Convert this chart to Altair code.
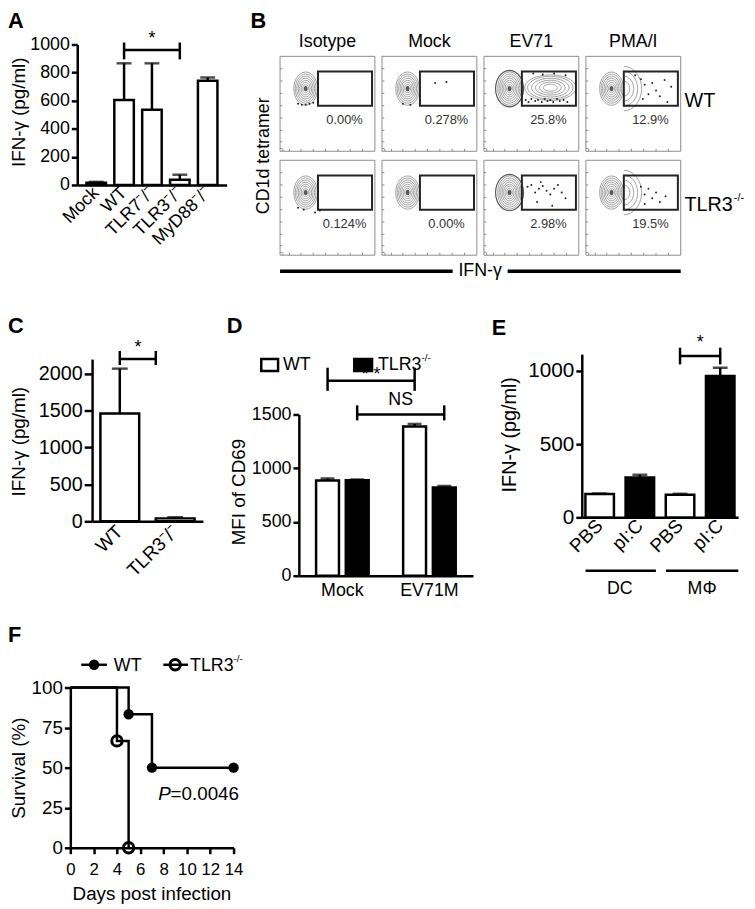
import math
import altair as alt
import pandas as pd

# ---------------- data ----------------
# Panel A
a_cats = ["Mock", "WT", "TLR7⁻/⁻", "TLR3⁻/⁻", "MyD88⁻/⁻"]
a_mean = [15, 605, 535, 37, 742]
a_upper = [22, 866, 866, 73, 765]

# Panel B (flow cytometry)
b_cols = ["Isotype", "Mock", "EV71", "PMA/I"]
b_pct = [["0.00%", "0.278%", "25.8%", "12.9%"],
         ["0.124%", "0.00%", "2.98%", "19.5%"]]
# scattered events (local cell units 0-100): row, col, x, y
b_dot_row = [0]*5 + [0]*5 + [0]*18 + [0]*11 + [1]*4 + [1]*14 + [1]*8
b_dot_col = [0]*5 + [1]*5 + [2]*18 + [3]*11 + [0]*4 + [2]*14 + [3]*8
b_dot_x = [19, 23, 27, 31, 35,
           22, 30, 40, 56, 68,
           44, 47, 50, 54, 57, 61, 64, 67, 70, 73, 77, 80, 84, 88, 52, 62, 74, 86,
           52, 58, 62, 70, 74, 78, 83, 86, 60, 90, 66,
           19, 25, 37, 42,
           46, 50, 54, 58, 62, 66, 70, 74, 78, 82, 56, 72, 86, 60,
           58, 62, 66, 70, 74, 78, 62, 84]
b_dot_y = [50, 49, 49, 50, 51,
           50, 49, 50, 72, 73,
           54, 52, 55, 53, 54, 52, 55, 53, 54, 52, 55, 53, 54, 52, 82, 81, 82, 80,
           80, 76, 70, 72, 64, 58, 75, 52, 55, 68, 60,
           50, 48, 45, 47,
           72, 74, 66, 70, 73, 68, 64, 70, 74, 66, 56, 52, 60, 77,
           72, 64, 70, 60, 66, 56, 54, 62]
# flow-plot axis ticks (local cell units)
b_ticks = [3, 10, 22, 35, 48, 61, 74, 87]

# Panel C
c_cats = ["WT", "TLR3⁻/⁻"]
c_mean = [1463, 40]
c_upper = [2070, 55]

# Panel D
d_groups = ["Mock", "Mock", "EV71M", "EV71M"]
d_geno = ["WT", "TLR3", "WT", "TLR3"]
d_mean = [885, 888, 1388, 820]
d_upper = [905, 895, 1412, 835]

# Panel E
e_cells = ["DC", "DC", "MΦ", "MΦ"]
e_treat = ["PBS", "pI:C", "PBS", "pI:C"]
e_mean = [160, 273, 155, 966]
e_upper = [163, 291, 161, 1022]

# Panel F (Kaplan-Meier)
f_wt_day = [0, 5, 7, 14]
f_wt_surv = [100, 83.3, 50, 50]
f_ko_day = [0, 4, 5]
f_ko_surv = [100, 66.7, 0]
f_wt_mark_day = [5, 7, 14]
f_wt_mark_surv = [83.3, 50, 50]
f_ko_mark_day = [4, 5]
f_ko_mark_surv = [66.7, 0]

# ---------------- layout helpers ----------------
M = 8
W, H = 747, 901
FONT = "Liberation Sans, Arial, Helvetica, sans-serif"
LW = 2.5


def P(v):
    return v - M


def lin(domain, r0, r1):
    return alt.Scale(domain=domain, range=[P(r0), P(r1)], nice=False)


def band_pair(cats, r0, r1, pi, po):
    """band scale for bars + linear scale in 'category index' units on the same pixels"""
    bsc = alt.Scale(domain=cats, range=[P(r0), P(r1)], paddingInner=pi, paddingOuter=po)
    d0 = -(po + (1 - pi) / 2)
    lsc = lin([d0, d0 + len(cats) - pi + 2 * po], r0, r1)
    return bsc, lsc


def yaxis(x_ref, values, title, tcx, tcy, lab=18, tsize=19, tick=6):
    return alt.Axis(orient="left", offset=-P(x_ref), values=values, title=title, format="d",
                    domainColor="black", domainWidth=LW, tickColor="black", tickWidth=LW,
                    tickSize=tick, labelFont=FONT, labelFontSize=lab, labelColor="black",
                    labelPadding=2, labelOverlap=False, labelFlush=False,
                    titleFont=FONT, titleFontSize=tsize, titleFontWeight="normal",
                    titleColor="black", titleX=tcx - x_ref, titleY=P(tcy), titleAngle=270,
                    titleAlign="center", titleBaseline="middle", grid=False)


def xaxis(y_ref, angle=-45, ticks=False, values=None, title=None, tcx=None, tcy=None,
          label_expr=None, pad=4, lab=18, tsize=18):
    kw = dict(orient="bottom", offset=P(y_ref) - H, labelAngle=angle, title=title,
              domainColor="black", domainWidth=LW, ticks=ticks, tickColor="black",
              tickWidth=LW, tickSize=6, labelFont=FONT, labelFontSize=lab, labelColor="black",
              labelPadding=pad, labelOverlap=False, labelFlush=False, titleFont=FONT,
              titleFontSize=tsize, titleFontWeight="normal", titleColor="black", grid=False)
    if title is not None:
        kw.update(titleX=P(tcx), titleY=tcy - y_ref, titleAlign="center", titleBaseline="middle")
    if angle != 0:
        kw.update(labelAlign="right", labelBaseline="middle")
    if values is not None:
        kw["values"] = values
    if label_expr is not None:
        kw["labelExpr"] = label_expr
    return alt.Axis(**kw)


def txt(text, x, y, size=18, weight="normal", align="center", style="normal", baseline="middle"):
    return alt.Chart(pd.DataFrame({"t": [text]})).mark_text(
        font=FONT, fontSize=size, fontWeight=weight, align=align, baseline=baseline,
        fontStyle=style, color="black").encode(x=alt.value(P(x)), y=alt.value(P(y)), text="t:N")


def bracket(xs, xe, yv, cap_lo, cap_hi, xsc, ysc):
    line = pd.DataFrame({"x": [xs], "x2": [xe], "y": [yv]})
    caps = pd.DataFrame({"x": [xs, xe], "y": [cap_lo, cap_lo], "y2": [cap_hi, cap_hi]})
    l1 = alt.Chart(line).mark_rule(color="black", strokeWidth=LW).encode(
        x=alt.X("x:Q", scale=xsc, axis=None), x2="x2:Q",
        y=alt.Y("y:Q", scale=ysc, axis=None))
    l2 = alt.Chart(caps).mark_rule(color="black", strokeWidth=LW).encode(
        x=alt.X("x:Q", scale=xsc, axis=None),
        y=alt.Y("y:Q", scale=ysc, axis=None), y2="y2:Q")
    return [l1, l2]


def qtext(text, xv, yv, xsc, ysc, size=18, align="center", style="normal", baseline="middle"):
    return alt.Chart(pd.DataFrame({"t": [text], "x": [xv], "y": [yv]})).mark_text(
        font=FONT, fontSize=size, align=align, baseline=baseline, fontStyle=style, color="black"
    ).encode(x=alt.X("x:Q", scale=xsc, axis=None), y=alt.Y("y:Q", scale=ysc, axis=None), text="t:N")


def bar_panel(df, xfield, xsc, ysc, xax, yax, sort, cap=14, fill=None, xoff=None):
    enc_x = lambda ax: alt.X(xfield, scale=xsc, sort=sort, axis=ax)
    extra = {}
    if xoff is not None:
        extra["xOffset"] = xoff
    out = [
        alt.Chart(df).mark_rule(color="black", strokeWidth=LW).encode(
            x=enc_x(None), y=alt.Y("mean:Q", scale=ysc, axis=None), y2="upper:Q", **extra),
        alt.Chart(df).mark_tick(color="black", thickness=LW, size=cap).encode(
            x=enc_x(None), y=alt.Y("upper:Q", scale=ysc, axis=None), **extra),
    ]
    bar_kw = dict(stroke="black", strokeWidth=LW)
    if fill is None:
        bar_kw["fill"] = "white"
    else:
        extra["fill"] = fill
    out.append(alt.Chart(df).mark_bar(**bar_kw).encode(
        x=enc_x(xax), y=alt.Y("mean:Q", scale=ysc, axis=yax), y2=alt.datum(0), **extra))
    return out


layers = []

# ---------------- Panel A ----------------
dfA = pd.DataFrame({"cat": a_cats, "mean": a_mean, "upper": a_upper})
xA, xA_l = band_pair(a_cats, 78, 229, 0.3, 0.33)
yA = lin([0, 1000], 182, 40)
layers += bar_panel(dfA, "cat:N", xA, yA, xaxis(182, pad=5),
                    yaxis(78, [0, 200, 400, 600, 800, 1000], "IFN-γ (pg/ml)", 19, 108, lab=18, tsize=19),
                    a_cats, cap=15)
layers += bracket(1, 3, 960, 894, 1014, xA_l, yA)
layers.append(qtext("*", 2, 1040, xA_l, yA, size=18))

# ---------------- Panel B ----------------
CELL, GX, GY = 100.0, 7.5, 9.5
xB = lin([0, 4 * CELL + 3 * GX], 283, 688)
yB = lin([0, 2 * CELL + GY], 253, 52)


def cx0(c):
    return c * (CELL + GX)


def cy0(r):
    return (1 - r) * (CELL + GY)


cells = []
for r in range(2):
    for c in range(4):
        cells.append({"r": r, "c": c, "x0": cx0(c), "x1": cx0(c) + CELL,
                      "y0": cy0(r), "y1": cy0(r) + CELL,
                      "gx0": cx0(c) + 40, "gx1": cx0(c) + 97,
                      "gy0": cy0(r) + 48, "gy1": cy0(r) + 84,
                      "px": cx0(c) + 68, "py": cy0(r) + 33, "pct": b_pct[r][c],
                      "bx": cx0(c) + 27, "by": cy0(r) + 66})
dfCells = pd.DataFrame(cells)
layers.append(alt.Chart(dfCells).mark_rect(fill=None, stroke="#8c8c8c", strokeWidth=1).encode(
    x=alt.X("x0:Q", scale=xB, axis=None), x2="x1:Q",
    y=alt.Y("y0:Q", scale=yB, axis=None), y2="y1:Q"))
# small axis ticks along the left and bottom edge of each flow plot
tk = []
for cell in cells:
    for t in b_ticks:
        tk.append({"x": cell["x0"] + t, "x2": cell["x0"] + t, "y": cell["y0"], "y2": cell["y0"] + 2.5})
        tk.append({"x": cell["x0"], "x2": cell["x0"] + 2.5, "y": cell["y0"] + t, "y2": cell["y0"] + t})
layers.append(alt.Chart(pd.DataFrame(tk)).mark_rule(color="#8c8c8c", strokeWidth=1).encode(
    x=alt.X("x:Q", scale=xB, axis=None), x2="x2:Q",
    y=alt.Y("y:Q", scale=yB, axis=None), y2="y2:Q"))


def ellipse_path(ry, n=28):
    pts = ["%.3f,%.3f" % (math.cos(2 * math.pi * i / n), ry * math.sin(2 * math.pi * i / n)) for i in range(n)]
    return "M" + " L".join(pts) + " Z"


def half_path(ry, n=16):
    pts = ["%.3f,%.3f" % (math.cos(-math.pi / 2 + math.pi * i / n), ry * math.sin(-math.pi / 2 + math.pi * i / n)) for i in range(n + 1)]
    return "M" + " L".join(pts)


ring_w = [6, 9, 12, 15, 18, 21, 24]
rings = []
for cell in cells:
    for w in ring_w:
        rings.append({"x": cell["bx"], "y": cell["by"], "s": w * w})
dfRings = pd.DataFrame(rings)
layers.append(alt.Chart(dfRings).mark_point(shape=ellipse_path(1.4), filled=False, stroke="#8a8a8a",
                                            strokeWidth=0.8, opacity=1).encode(
    x=alt.X("x:Q", scale=xB, axis=None), y=alt.Y("y:Q", scale=yB, axis=None),
    size=alt.Size("s:Q", scale=None)))
layers.append(alt.Chart(dfCells).mark_point(shape=ellipse_path(1.4), filled=True, fill="#5a5a5a",
                                            opacity=1, size=16).encode(
    x=alt.X("bx:Q", scale=xB, axis=None), y=alt.Y("by:Q", scale=yB, axis=None)))
ev = dfCells[dfCells.c == 2]
layers.append(alt.Chart(ev).mark_point(shape=ellipse_path(1.3), filled=False, stroke="#555555",
                                       strokeWidth=1.2, size=800, opacity=1).encode(
    x=alt.X("bx:Q", scale=xB, axis=None), y=alt.Y("by:Q", scale=yB, axis=None)))
ev_w = [14, 22, 30, 38, 46, 52]
dfEV = pd.DataFrame({"x": [cx0(2) + 70] * len(ev_w), "y": [cy0(0) + 67] * len(ev_w), "s": [w * w for w in ev_w]})
layers.append(alt.Chart(dfEV).mark_point(shape=ellipse_path(0.5), filled=False, stroke="#8a8a8a",
                                         strokeWidth=0.8, opacity=1).encode(
    x=alt.X("x:Q", scale=xB, axis=None), y=alt.Y("y:Q", scale=yB, axis=None),
    size=alt.Size("s:Q", scale=None)))
pma_r = [6, 10, 14, 18]
pm = []
for r in range(2):
    for rr in pma_r:
        pm.append({"x": cx0(3) + 40, "y": cy0(r) + 66, "s": (2 * rr) ** 2})
layers.append(alt.Chart(pd.DataFrame(pm)).mark_point(shape=half_path(1.25), filled=False, stroke="#8a8a8a",
                                                     strokeWidth=0.8, opacity=1).encode(
    x=alt.X("x:Q", scale=xB, axis=None), y=alt.Y("y:Q", scale=yB, axis=None),
    size=alt.Size("s:Q", scale=None)))
dfDots = pd.DataFrame({"r": b_dot_row, "c": b_dot_col, "lx": b_dot_x, "ly": b_dot_y})
dfDots["x"] = dfDots.c * (CELL + GX) + dfDots.lx
dfDots["y"] = (1 - dfDots.r) * (CELL + GY) + dfDots.ly
layers.append(alt.Chart(dfDots).mark_circle(color="#222222", size=4, opacity=1).encode(
    x=alt.X("x:Q", scale=xB, axis=None), y=alt.Y("y:Q", scale=yB, axis=None)))
layers.append(alt.Chart(dfCells).mark_rect(fill=None, stroke="#222222", strokeWidth=2).encode(
    x=alt.X("gx0:Q", scale=xB, axis=None), x2="gx1:Q",
    y=alt.Y("gy0:Q", scale=yB, axis=None), y2="gy1:Q"))
layers.append(alt.Chart(dfCells).mark_text(font=FONT, fontSize=13, color="#333333").encode(
    x=alt.X("px:Q", scale=xB, axis=None), y=alt.Y("py:Q", scale=yB, axis=None), text="pct:N"))
dfColT = pd.DataFrame({"t": b_cols, "x": [cx0(c) + 50 for c in range(4)], "y": [2 * CELL + GY + 15] * 4})
layers.append(alt.Chart(dfColT).mark_text(font=FONT, fontSize=18, color="black").encode(
    x=alt.X("x:Q", scale=xB, axis=None), y=alt.Y("y:Q", scale=yB, axis=None), text="t:N"))
xr = 4 * CELL + 3 * GX + 4
layers.append(qtext("WT", xr, cy0(0) + 53, xB, yB, size=20, align="left"))
layers.append(qtext("TLR3", xr, cy0(1) + 53, xB, yB, size=20, align="left"))
layers.append(qtext("-/-", xr + 52, cy0(1) + 60, xB, yB, size=11, align="left"))
layers.append(alt.Chart(pd.DataFrame({"t": ["CD1d tetramer"], "x": [-17], "y": [CELL + GY / 2]})).mark_text(
    font=FONT, fontSize=18, angle=270, color="black").encode(
    x=alt.X("x:Q", scale=xB, axis=None), y=alt.Y("y:Q", scale=yB, axis=None), text="t:N"))
dfIL = pd.DataFrame({"x": [0, 240], "x2": [182, 4 * CELL + 3 * GX], "y": [-17, -17]})
layers.append(alt.Chart(dfIL).mark_rule(color="black", strokeWidth=3.5).encode(
    x=alt.X("x:Q", scale=xB, axis=None), x2="x2:Q", y=alt.Y("y:Q", scale=yB, axis=None)))
layers.append(qtext("IFN-γ", 211, -17, xB, yB, size=18))

# ---------------- Panel C ----------------
dfC = pd.DataFrame({"cat": c_cats, "mean": c_mean, "upper": c_upper})
xC, xC_l = band_pair(c_cats, 93, 205, 0.3, 0.15)
yC = lin([0, 2200], 522, 358)
layers += bar_panel(dfC, "cat:N", xC, yC, xaxis(522, pad=7, lab=19),
                    yaxis(93, [0, 500, 1000, 1500, 2000], "IFN-γ (pg/ml)", 19, 441, lab=20, tsize=19, tick=8),
                    c_cats, cap=16)
layers += bracket(0, 0.65, 2200, 2120, 2310, xC_l, yC)
layers.append(qtext("*", 0.33, 2350, xC_l, yC, size=18))

# ---------------- Panel D ----------------
dfD = pd.DataFrame({"grp": d_groups, "geno": d_geno, "mean": d_mean, "upper": d_upper})
xD = alt.Scale(domain=["Mock", "EV71M"], range=[P(302), P(478)], paddingInner=0, paddingOuter=0)
yD = lin([0, 1500], 577, 414)
xoD = alt.XOffset("geno:N", scale=alt.Scale(domain=["WT", "TLR3"], paddingInner=0.23, paddingOuter=0.58),
                  sort=["WT", "TLR3"])
fD = alt.Fill("geno:N", scale=alt.Scale(domain=["WT", "TLR3"], range=["white", "black"]), legend=None)
layers += bar_panel(dfD, "grp:N", xD, yD, xaxis(577, angle=0, pad=6, lab=18),
                    yaxis(302, [0, 500, 1000, 1500], "MFI of CD69", 241, 492, lab=18, tsize=19),
                    ["Mock", "EV71M"], cap=14, fill=fD, xoff=xoD)
xD_l = lin([0, 2], 302, 478)
layers += bracket(0.33, 1.33, 1813, 1720, 1935, xD_l, yD)
layers.append(qtext("* *", 0.83, 1865, xD_l, yD, size=18))
layers += bracket(0.67, 1.67, 1500, 1445, 1585, xD_l, yD)
layers.append(qtext("NS", 1.17, 1635, xD_l, yD, size=18))
# legend
layers.append(alt.Chart(pd.DataFrame({"a": [0]})).mark_rect(fill="white", stroke="black", strokeWidth=2.5).encode(
    x=alt.value(P(264)), x2=alt.value(P(281)), y=alt.value(P(358)), y2=alt.value(P(370))))
layers.append(alt.Chart(pd.DataFrame({"a": [0]})).mark_rect(fill="black", stroke="black", strokeWidth=2.5).encode(
    x=alt.value(P(358)), x2=alt.value(P(376)), y=alt.value(P(358)), y2=alt.value(P(370))))
layers.append(txt("WT", 286, 364, 18, align="left"))
layers.append(txt("TLR3", 382, 364, 18, align="left"))
layers.append(txt("-/-", 426, 357, 10, align="left"))

# ---------------- Panel E ----------------
e_keys = [c + " " + t for c, t in zip(e_cells, e_treat)]
dfE = pd.DataFrame({"key": e_keys, "treat": e_treat, "mean": e_mean, "upper": e_upper})
xE, xE_l = band_pair(e_keys, 588, 746, 0.29, 0.09)
yE = lin([0, 1115], 518, 353)
fE = alt.Fill("treat:N", scale=alt.Scale(domain=["PBS", "pI:C"], range=["white", "black"]), legend=None)
layers += bar_panel(dfE, "key:N", xE, yE,
                    xaxis(518, pad=5, lab=19, label_expr="split(datum.label, ' ')[1]"),
                    yaxis(588, [0, 500, 1000], "IFN-γ (pg/ml)", 515, 434, lab=21, tsize=20),
                    e_keys, cap=15, fill=fE)
layers += bracket(2, 3, 1102, 1045, 1159, xE_l, yE)
layers.append(qtext("*", 2.5, 1190, xE_l, yE, size=18))
dfEG = pd.DataFrame({"x": [-0.35, 1.65], "x2": [1.4, 3.45], "y": [-365, -365]})
layers.append(alt.Chart(dfEG).mark_rule(color="black", strokeWidth=LW).encode(
    x=alt.X("x:Q", scale=xE_l, axis=None), x2="x2:Q", y=alt.Y("y:Q", scale=yE, axis=None)))
layers.append(qtext("DC", 0.5, -490, xE_l, yE, size=18))
layers.append(qtext("MΦ", 2.55, -490, xE_l, yE, size=18))

# ---------------- Panel F ----------------
xF = lin([0, 14], 71, 236)
yF = lin([0, 100], 852, 690)
dfFwt = pd.DataFrame({"d": f_wt_day, "s": f_wt_surv})
dfFko = pd.DataFrame({"d": f_ko_day, "s": f_ko_surv})
layers.append(alt.Chart(dfFwt).mark_line(interpolate="step-after", color="black", strokeWidth=LW).encode(
    x=alt.X("d:Q", scale=xF, axis=xaxis(852, angle=0, ticks=True, values=list(range(0, 15, 2)),
                                        title="Days post infection", tcx=153, tcy=898, pad=8,
                                        lab=17, tsize=19)),
    y=alt.Y("s:Q", scale=yF, axis=yaxis(71, [0, 25, 50, 75, 100], "Survival (%)", 19, 771, lab=19, tsize=19))))
layers.append(alt.Chart(dfFko).mark_line(interpolate="step-after", color="black", strokeWidth=LW).encode(
    x=alt.X("d:Q", scale=xF, axis=None), y=alt.Y("s:Q", scale=yF, axis=None)))
layers.append(alt.Chart(pd.DataFrame({"d": f_wt_mark_day, "s": f_wt_mark_surv})).mark_point(
    shape="circle", filled=True, fill="black", size=110, opacity=1).encode(
    x=alt.X("d:Q", scale=xF, axis=None), y=alt.Y("s:Q", scale=yF, axis=None)))
layers.append(alt.Chart(pd.DataFrame({"d": f_ko_mark_day, "s": f_ko_mark_surv})).mark_point(
    shape="circle", filled=False, stroke="black", strokeWidth=3, size=110, opacity=1).encode(
    x=alt.X("d:Q", scale=xF, axis=None), y=alt.Y("s:Q", scale=yF, axis=None)))
layers.append(qtext("P", 7.55, 33.3, xF, yF, size=19, align="left", style="italic"))
layers.append(qtext("=0.0046", 8.6, 33.3, xF, yF, size=19, align="left"))
# legend
layers.append(alt.Chart(pd.DataFrame({"a": [0]})).mark_rule(color="black", strokeWidth=LW).encode(
    x=alt.value(P(82)), x2=alt.value(P(108)), y=alt.value(P(667))))
layers.append(alt.Chart(pd.DataFrame({"a": [0]})).mark_point(shape="circle", filled=True, fill="black", size=110, opacity=1).encode(
    x=alt.value(P(95)), y=alt.value(P(667))))
layers.append(txt("WT", 115, 668, 18, align="left"))
layers.append(alt.Chart(pd.DataFrame({"a": [0]})).mark_rule(color="black", strokeWidth=LW).encode(
    x=alt.value(P(165)), x2=alt.value(P(190)), y=alt.value(P(667))))
layers.append(alt.Chart(pd.DataFrame({"a": [0]})).mark_point(shape="circle", filled=False, stroke="black", strokeWidth=3, size=110, opacity=1).encode(
    x=alt.value(P(177)), y=alt.value(P(667))))
layers.append(txt("TLR3", 192, 668, 18, align="left"))
layers.append(txt("-/-", 236, 661, 10, align="left"))

# ---------------- panel letters ----------------
for letter, lx, ly in [("A", 8, 16), ("B", 253, 16), ("C", 8, 325), ("D", 229, 325),
                       ("E", 497, 327), ("F", 8, 637)]:
    layers.append(txt(letter, lx, ly, 22, weight="bold", align="left"))

chart = alt.layer(*layers).resolve_scale(
    x="independent", y="independent", fill="independent", xOffset="independent", size="independent"
).resolve_axis(x="independent", y="independent").properties(
    width=W, height=H, padding=0, autosize=alt.AutoSizeParams(type="none")
).configure_view(stroke=None)

chart.save("out.html", embed_options={"renderer": "svg", "actions": False})
